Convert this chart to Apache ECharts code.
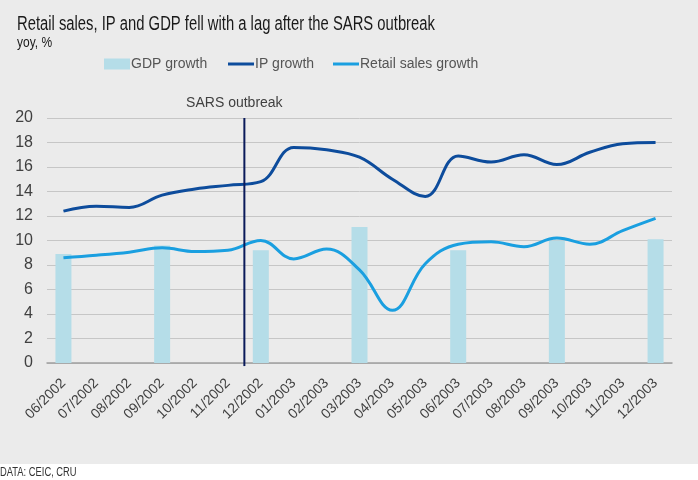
<!DOCTYPE html>
<html>
<head>
<meta charset="utf-8">
<script src="https://cdn.jsdelivr.net/npm/echarts@6/dist/echarts.min.js"></script>
<style>
	html, body { margin: 0; padding: 0; background: #ffffff; }
	#chart { width: 698px; height: 480px; }
</style>
</head>
<body>
<div id="chart"></div>
<script>
// 月份
var months = ['06/2002', '07/2002', '08/2002', '09/2002', '10/2002', '11/2002', '12/2002',
	'01/2003', '02/2003', '03/2003', '04/2003', '05/2003', '06/2003', '07/2003',
	'08/2003', '09/2003', '10/2003', '11/2003', '12/2003'];

// 季度GDP，只在季末月份有值
var gdpGrowth = [8.9, null, null, 9.6, null, null, 9.2, null, null, 11.1, null, null,
	9.2, null, null, 10.0, null, null, 10.1];

var ipGrowth = [12.4, 12.8, 12.7, 13.7, 14.2, 14.5, 14.8, 17.6, 17.4, 16.8, 15.0, 13.6,
	16.9, 16.4, 17.0, 16.2, 17.2, 17.9, 18.0];

var retailGrowth = [8.6, 8.8, 9.05, 9.4, 9.1, 9.2, 10.0, 8.5, 9.3, 7.6, 4.3, 8.1,
	9.7, 9.9, 9.5, 10.2, 9.7, 10.8, 11.8];

var yTicks = [0, 2, 4, 6, 8, 10, 12, 14, 16, 18, 20];

// SARS 爆发位置（11/2002 与 12/2002 之间）
var sarsIndex = 5.5;
var sarsRange = [-0.25, 20];

var font = 'Liberation Sans, Arial, sans-serif';

var myCharts = echarts.init(document.getElementById('chart'));

// 窄体文字（用横向缩放模拟 Arial Narrow）
function narrowText(x, y, text, size, color, sx) {
	return {
		type: 'text',
		x: x,
		y: y,
		scaleX: sx,
		style: { text: text, fontSize: size, fill: color, fontFamily: font, verticalAlign: 'top' }
	};
}

var legendBase = {
	top: 52,
	itemWidth: 26,
	itemGap: 0,
	textStyle: { fontSize: 14, color: '#555555', padding: [0, 0, 0, -4] }
};

var option = {
	backgroundColor: '#ffffff',
	animation: false,
	textStyle: { fontFamily: font },
	graphic: [{
		type: 'rect',
		z: -10,
		shape: { x: 0, y: 0, width: 698, height: 464 },
		style: { fill: '#ebebeb' }
	},
		narrowText(17, 14, 'Retail sales, IP and GDP fell with a lag after the SARS outbreak', 20, '#1a1a1a', 0.74),
		narrowText(17, 35, 'yoy, %', 15, '#1a1a1a', 0.8),
		narrowText(0, 467, 'DATA: CEIC, CRU', 12, '#333333', 0.78)
	],
	legend: [
		echarts.util.merge({ left: 99, itemHeight: 11, data: [{ name: 'GDP growth', icon: 'rect' }] }, legendBase),
		echarts.util.merge({ left: 223, itemHeight: 3, data: [{ name: 'IP growth', icon: 'rect' }] }, legendBase),
		echarts.util.merge({ left: 328, itemHeight: 3, data: [{ name: 'Retail sales growth', icon: 'rect' }] }, legendBase)
	],
	grid: {
		left: 47,
		right: 26,
		top: 118,
		bottom: 117
	},
	xAxis: [{
		type: 'category',
		data: months,
		axisLine: { lineStyle: { color: '#a0a0a0', width: 1.5 } },
		axisTick: { show: false },
		axisLabel: { rotate: 45, fontSize: 14, color: '#404040', margin: 18, interval: 0 }
	}, {
		type: 'value',
		show: false,
		min: -0.5,
		max: months.length - 0.5
	}],
	yAxis: {
		type: 'value',
		min: yTicks[0],
		max: yTicks[yTicks.length - 1],
		interval: 2,
		axisLine: { show: false },
		axisTick: { show: false },
		axisLabel: { fontSize: 16, color: '#404040', margin: 14 },
		splitLine: { lineStyle: { color: '#c6c6c6', width: 1 } }
	},
	series: [{
		name: 'GDP growth',
		type: 'bar',
		data: gdpGrowth,
		barWidth: 16,
		itemStyle: { color: '#b5dde8' },
		z: 1
	}, {
		name: 'IP growth',
		type: 'line',
		data: ipGrowth,
		smooth: 0.4,
		symbol: 'none',
		lineStyle: { color: '#0d4c9c', width: 3 },
		itemStyle: { color: '#0d4c9c' },
		z: 3
	}, {
		name: 'Retail sales growth',
		type: 'line',
		data: retailGrowth,
		smooth: 0.4,
		symbol: 'none',
		lineStyle: { color: '#1a9fe0', width: 3 },
		itemStyle: { color: '#1a9fe0' },
		z: 3
	}, {
		name: 'SARS',
		type: 'line',
		xAxisIndex: 1,
		data: [[sarsIndex, sarsRange[0]], [sarsIndex, sarsRange[1]]],
		clip: false,
		symbol: 'none',
		lineStyle: { color: '#0a1a5a', width: 2 },
		markPoint: {
			symbol: 'circle',
			symbolSize: 0,
			data: [{ coord: [sarsIndex, sarsRange[1]] }],
			label: { show: true, position: 'top', distance: 8, offset: [-10, 0], formatter: 'SARS outbreak', fontSize: 14, color: '#404040' }
		},
		z: 4
	}]
};

myCharts.setOption(option);
</script>
</body>
</html>
